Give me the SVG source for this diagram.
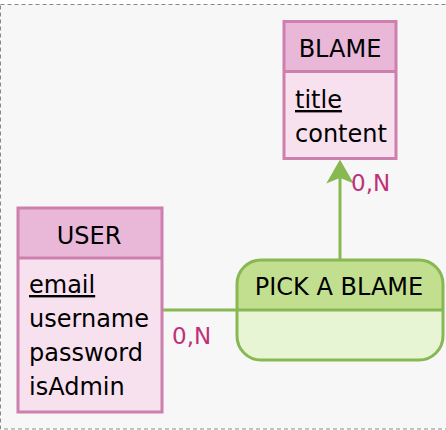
<svg xmlns="http://www.w3.org/2000/svg" width="446" height="430" viewBox="0 0 446 430">
<style>
text{font-family:"DejaVu Sans",Verdana,sans-serif;font-size:24px;fill:#000}
.ent{stroke:#cd7fae;stroke-width:3}
.eh{fill:#e9b8d9}
.eb{fill:#f8e1ef}
.rel{stroke:#88b852;stroke-width:3}
.card{fill:#c0307a;font-size:23px}
.conn{stroke:#88b852;stroke-width:3;fill:none}
</style>
<rect x="0.5" y="4.5" width="460" height="424.5" fill="#f7f7f7" stroke="#888" stroke-dasharray="4 3"/>
<g id="connectors">
<line class="conn" x1="163" y1="310" x2="237" y2="310"/>
<line class="conn" x1="340" y1="259" x2="340" y2="176"/>
<path d="M340,161 L352,182 L340,177 L328,182 Z" fill="#88b852" stroke="#88b852" stroke-width="1.5"/>
<text class="card" x="172" y="344">0,N</text>
<text class="card" x="351" y="191">0,N</text>
</g>
<g id="blame">
<rect class="eb" x="284" y="21.5" width="112" height="137"/>
<rect class="eh" x="284" y="21.5" width="112" height="50"/>
<rect class="ent" x="284" y="21.5" width="112" height="137" fill="none"/>
<line class="ent" x1="284" y1="71.5" x2="396" y2="71.5" stroke-width="1.5"/>
<text x="340" y="57" text-anchor="middle">BLAME</text>
<text x="295" y="108" text-decoration="underline">title</text>
<text x="295" y="142">content</text>
</g>
<g id="user">
<rect class="eb" x="18" y="208" width="144" height="204"/>
<rect class="eh" x="18" y="208" width="144" height="50"/>
<rect class="ent" x="18" y="208" width="144" height="204" fill="none"/>
<line class="ent" x1="18" y1="258" x2="162" y2="258" stroke-width="1.5"/>
<text x="89" y="244" text-anchor="middle">USER</text>
<text x="29" y="293" text-decoration="underline">email</text>
<text x="29" y="327">username</text>
<text x="29" y="361">password</text>
<text x="29" y="395">isAdmin</text>
</g>
<g id="pick-a-blame">
<path d="M237,310 V284 A24,24 0 0 1 261,260 H419 A24,24 0 0 1 443,284 V310 Z" fill="#c2df8f"/>
<path d="M237,310 V336 A24,24 0 0 0 261,360 H419 A24,24 0 0 0 443,336 V310 Z" fill="#e8f5d4"/>
<rect class="rel" x="237" y="260" width="206" height="100" rx="24" fill="none"/>
<line class="rel" x1="237" y1="310" x2="443" y2="310" stroke-width="1.5"/>
<text x="339" y="295" text-anchor="middle">PICK A BLAME</text>
</g>
</svg>
